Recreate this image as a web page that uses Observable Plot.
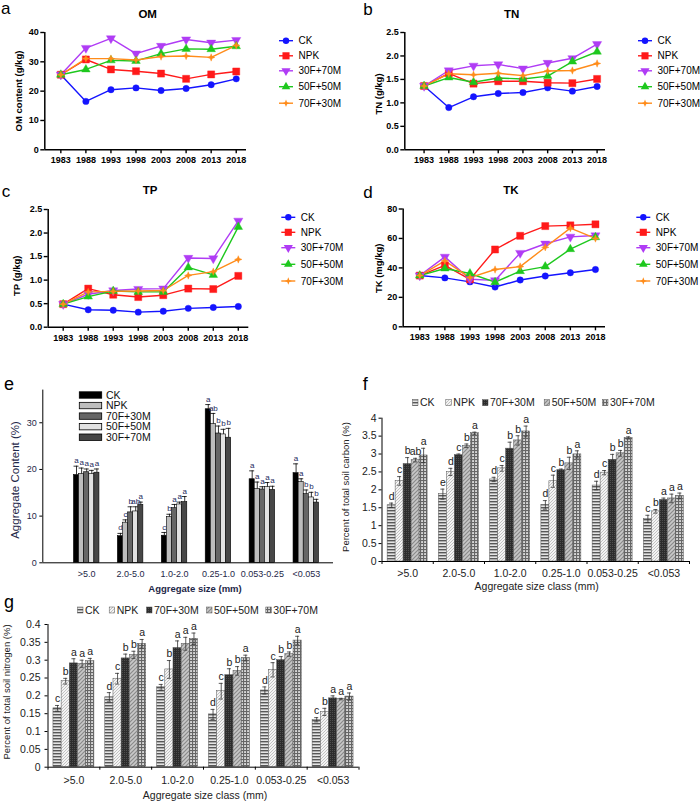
<!DOCTYPE html>
<html><head><meta charset="utf-8">
<script src="https://cdn.jsdelivr.net/npm/d3@7"></script>
<script src="https://cdn.jsdelivr.net/npm/@observablehq/plot@0.6"></script>
<style>
html,body{margin:0;padding:0;background:#fff;}
#root{position:relative;width:700px;height:801px;overflow:hidden;font-family:"Liberation Sans",Arial,sans-serif;background:#fff;}
#root svg.layer{position:absolute;left:0;top:0;}
</style></head><body>
<svg width="0" height="0" style="position:absolute;left:0;top:0">
<defs>
<pattern id="pCK" width="4" height="3" patternUnits="userSpaceOnUse"><rect width="4" height="3" fill="#e4e4e4"/><rect width="4" height="1.4" fill="#585858"/></pattern>
<pattern id="pNPK" width="3" height="3" patternUnits="userSpaceOnUse"><rect width="3" height="3" fill="#f4f4f4"/><path d="M0,3 L3,0 M-1,1 L1,-1 M2,4 L4,2" stroke="#9a9a9a" stroke-width="0.8" stroke-dasharray="1,0.6"/></pattern>
<pattern id="p70" width="2" height="2" patternUnits="userSpaceOnUse"><rect width="2" height="2" fill="#2c2c2c"/><rect width="1" height="1" fill="#4e4e4e"/></pattern>
<pattern id="p50" width="4" height="4" patternUnits="userSpaceOnUse"><rect width="4" height="4" fill="#c8c8c8"/><path d="M0,4 L4,0 M-1,1 L1,-1 M3,5 L5,3" stroke="#8a8a8a" stroke-width="1.2"/></pattern>
<pattern id="p30" width="3" height="3" patternUnits="userSpaceOnUse"><rect width="3" height="3" fill="#d8d8d8"/><rect width="3" height="1.1" fill="#666"/><rect width="1.1" height="3" fill="#666"/></pattern>
</defs></svg>
<div id="root"></div>
<script>
// ---------- data: panels a-d ----------
const years = [1983, 1988, 1993, 1998, 2003, 2008, 2013, 2018];
const lineTreatments = ["CK", "NPK", "30F+70M", "50F+50M", "70F+30M"];

const omCK     = [25.6, 16.5, 20.5, 21.1, 20.2, 20.9, 22.2, 24.2];
const omNPK    = [25.6, 30.8, 27.4, 26.8, 26.0, 24.2, 25.7, 26.7];
const om30F70M = [25.6, 34.7, 38.0, 32.8, 35.4, 37.6, 36.5, 37.4];
const om50F50M = [25.6, 27.4, 30.5, 30.3, 32.8, 34.4, 34.3, 35.3];
const om70F30M = [25.6, 31.1, 31.1, 30.6, 31.8, 32.0, 31.5, 35.6];

const tnCK     = [1.36, 0.90, 1.13, 1.20, 1.22, 1.32, 1.25, 1.35];
const tnNPK    = [1.36, 1.63, 1.41, 1.46, 1.46, 1.43, 1.42, 1.51];
const tn30F70M = [1.36, 1.69, 1.79, 1.82, 1.73, 1.85, 1.95, 2.25];
const tn50F50M = [1.36, 1.54, 1.44, 1.53, 1.51, 1.57, 1.88, 2.09];
const tn70F30M = [1.36, 1.62, 1.60, 1.63, 1.58, 1.68, 1.69, 1.84];

const tpCK     = [0.49, 0.37, 0.36, 0.32, 0.34, 0.40, 0.42, 0.44];
const tpNPK    = [0.49, 0.82, 0.69, 0.64, 0.68, 0.82, 0.81, 1.09];
const tp30F70M = [0.49, 0.70, 0.78, 0.81, 0.82, 1.47, 1.46, 2.26];
const tp50F50M = [0.49, 0.65, 0.77, 0.75, 0.75, 1.27, 1.11, 2.13];
const tp70F30M = [0.49, 0.75, 0.76, 0.77, 0.78, 1.10, 1.18, 1.44];

const tkCK     = [34.8, 33.2, 30.5, 27.0, 31.8, 34.5, 36.7, 38.9];
const tkNPK    = [34.8, 41.7, 32.2, 52.5, 61.8, 68.4, 68.9, 69.6];
const tk30F70M = [34.8, 47.5, 32.3, 31.5, 50.1, 56.4, 61.1, 62.0];
const tk50F50M = [34.8, 39.6, 36.2, 30.3, 37.8, 40.9, 52.7, 60.8];
const tk70F30M = [34.8, 44.8, 33.4, 38.9, 40.9, 54.0, 67.0, 60.0];

// ---------- data: panels e-g ----------
const sizeClasses = [">5.0", "2.0-5.0", "1.0-2.0", "0.25-1.0", "0.053-0.25", "<0.053"];
const barTreatments = ["CK", "NPK", "70F+30M", "50F+50M", "30F+70M"];

const aggCK     = [18.8, 5.7, 5.8, 32.9, 17.9, 19.2];
const aggNPK    = [19.0, 8.6, 9.8, 29.7, 15.8, 17.3];
const agg70F30M = [19.4, 10.8, 11.7, 27.7, 15.7, 14.7];
const agg50F50M = [19.0, 11.0, 12.5, 27.5, 16.2, 14.0];
const agg30F70M = [19.3, 12.4, 13.0, 26.8, 15.6, 12.9];
const aggErrCK     = [1.9, 0.6, 0.7, 1.0, 1.8, 2.0];
const aggErrNPK    = [1.3, 0.6, 0.6, 2.3, 1.5, 0.7];
const aggErr70F30M = [0.7, 1.2, 0.8, 1.6, 0.6, 0.9];
const aggErr50F50M = [0.8, 1.0, 0.5, 1.1, 1.0, 1.1];
const aggErr30F70M = [0.8, 0.6, 1.2, 2.0, 0.8, 0.7];
const aggSigCK     = ["a", "d", "c", "a", "a", "a"];
const aggSigNPK    = ["a", "c", "b", "ab", "a", "a"];
const aggSig70F30M = ["a", "b", "a", "b", "a", "b"];
const aggSig50F50M = ["a", "ab", "a", "b", "a", "b"];
const aggSig30F70M = ["a", "a", "a", "b", "a", "b"];

const socCK     = [1.57, 1.88, 2.29, 1.58, 2.12, 1.19];
const socNPK    = [2.25, 2.50, 2.60, 2.24, 2.48, 1.40];
const soc70F30M = [2.72, 2.97, 3.15, 2.55, 2.84, 1.72];
const soc50F50M = [2.83, 3.23, 3.38, 2.74, 3.02, 1.76];
const soc30F70M = [2.96, 3.58, 3.63, 2.99, 3.45, 1.83];
const socErrCK     = [0.06, 0.14, 0.06, 0.12, 0.12, 0.10];
const socErrNPK    = [0.12, 0.10, 0.08, 0.17, 0.06, 0.05];
const socErr70F30M = [0.18, 0.03, 0.18, 0.03, 0.15, 0.05];
const socErr50F50M = [0.05, 0.05, 0.13, 0.17, 0.08, 0.12];
const socErr30F70M = [0.20, 0.03, 0.15, 0.10, 0.03, 0.08];
const socSigCK     = ["d", "e", "d", "d", "d", "c"];
const socSigNPK    = ["c", "d", "c", "c", "c", "b"];
const socSig70F30M = ["b", "c", "b", "b", "b", "a"];
const socSig50F50M = ["ab", "b", "b", "b", "b", "a"];
const socSig30F70M = ["a", "a", "a", "a", "a", "a"];

const stnCK     = [0.165, 0.196, 0.224, 0.148, 0.215, 0.133];
const stnNPK    = [0.241, 0.248, 0.274, 0.213, 0.273, 0.155];
const stn70F30M = [0.291, 0.305, 0.334, 0.258, 0.300, 0.193];
const stn50F50M = [0.290, 0.315, 0.346, 0.270, 0.317, 0.191];
const stn30F70M = [0.297, 0.346, 0.360, 0.306, 0.355, 0.198];
const stnErrCK     = [0.008, 0.013, 0.008, 0.014, 0.010, 0.006];
const stnErrNPK    = [0.008, 0.015, 0.025, 0.022, 0.020, 0.010];
const stnErr70F30M = [0.013, 0.012, 0.020, 0.018, 0.010, 0.007];
const stnErr50F50M = [0.010, 0.010, 0.018, 0.012, 0.006, 0.002];
const stnErr30F70M = [0.008, 0.012, 0.016, 0.008, 0.012, 0.010];
const stnSigCK     = ["c", "d", "c", "d", "d", "c"];
const stnSigNPK    = ["b", "c", "b", "c", "c", "b"];
const stnSig70F30M = ["a", "b", "a", "b", "b", "a"];
const stnSig50F50M = ["a", "b", "a", "b", "b", "a"];
const stnSig30F70M = ["a", "a", "a", "a", "a", "a"];

// ---------- styling ----------
const FONT = "Liberation Sans, Arial, sans-serif";
const lineColors = ["#1414ff", "#ff1a1a", "#b03cf5", "#1ec81e", "#ff8c1a"];
const triDown = {draw(c, size) { const s3 = Math.sqrt(3); const y = Math.sqrt(size / (s3 * 3)); c.moveTo(0, y * 2); c.lineTo(-s3 * y, -y); c.lineTo(s3 * y, -y); c.closePath(); }};
const star4 = {draw(c, size) { const R = Math.sqrt(size) * 0.75, r = R * 0.4; for (let k = 0; k < 8; k++) { const a = k * Math.PI / 4 - Math.PI / 2; const rad = k % 2 ? r : R; const x = rad * Math.cos(a), y = rad * Math.sin(a); if (k) c.lineTo(x, y); else c.moveTo(x, y); } c.closePath(); }};
const lineSymbols = [d3.symbolCircle, d3.symbolSquare, triDown, d3.symbolTriangle, star4];
const lineR = [3.2, 4.0, 3.4, 3.2, 2.8];

const root = document.getElementById("root");
function addLayer(svg) { svg.classList.add("layer"); root.appendChild(svg); return d3.select(svg); }

function thickenTicks(sel, w) {
  sel.selectAll('g[aria-label="x-axis tick"], g[aria-label="y-axis tick"], g[aria-label="x-axis"] .tick line, g[aria-label="y-axis"] .tick line').attr("stroke-width", w);
}

function linePanel(cfg) {
  const rows = [];
  cfg.series.forEach((vals, si) => vals.forEach((v, yi) => rows.push({year: years[yi], value: v, si})));
  const marks = [];
  lineTreatments.forEach((t, si) => marks.push(Plot.line(rows.filter(r => r.si === si), {x: "year", y: "value", stroke: lineColors[si], strokeWidth: 1.4})));
  lineTreatments.forEach((t, si) => marks.push(Plot.dot(rows.filter(r => r.si === si), {x: "year", y: "value", symbol: lineSymbols[si], r: lineR[si], fill: lineColors[si], stroke: lineColors[si], strokeWidth: 0.4})));
  marks.push(Plot.ruleY([cfg.yDomain[0]], {stroke: "#000", strokeWidth: 1.5}));
  marks.push(Plot.ruleX([cfg.xDomain[0]], {stroke: "#000", strokeWidth: 1.5}));
  const svg = Plot.plot({
    width: 700, height: 801,
    marginLeft: cfg.px[0], marginRight: 700 - cfg.px[1], marginTop: cfg.py[1], marginBottom: 801 - cfg.py[0],
    x: {domain: cfg.xDomain, ticks: years, tickFormat: "d", tickSize: 4, tickPadding: 3, label: null},
    y: {domain: cfg.yDomain, ticks: cfg.yTicks, tickFormat: cfg.yFormat, tickSize: 4, tickPadding: 2, label: null},
    style: {background: "transparent", fontFamily: FONT, fontSize: "9px", fontWeight: "bold", color: "#000", overflow: "visible"},
    marks
  });
  const s = addLayer(svg);
  thickenTicks(s, 1.4);
  const g = s.append("g").attr("font-family", FONT).attr("fill", "#000").attr("text-anchor", "start");
  g.append("text").attr("x", cfg.letter[0]).attr("y", cfg.letter[1]).attr("font-size", 17).attr("font-weight", "normal").text(cfg.letterText);
  g.append("text").attr("x", cfg.title[0]).attr("y", cfg.title[1]).attr("font-size", 11.5).attr("font-weight", "bold").attr("text-anchor", "middle").text(cfg.titleText);
  g.append("text").attr("transform", `translate(${cfg.ytitle[0]},${cfg.ytitle[1]}) rotate(-90)`).attr("font-size", 9.5).attr("font-weight", "bold").attr("text-anchor", "middle").attr("dy", "0.35em").text(cfg.ytitleText);
  lineTreatments.forEach((t, si) => {
    const y = cfg.legY[si], x = cfg.legX;
    g.append("line").attr("x1", x - 7).attr("x2", x + 7).attr("y1", y).attr("y2", y).attr("stroke", lineColors[si]).attr("stroke-width", 1.4);
    g.append("path").attr("transform", `translate(${x},${y})`).attr("d", d3.symbol(lineSymbols[si], Math.PI * lineR[si] * lineR[si])()).attr("fill", lineColors[si]);
    g.append("text").attr("x", x + 12.5).attr("y", y).attr("dy", "0.35em").attr("font-size", 10).attr("font-weight", "normal").text(t);
  });
}

const fmt1 = d3.format(".1f");
linePanel({series: [omCK, omNPK, om30F70M, om50F50M, om70F30M], px: [44.3, 246], py: [149.3, 32], xDomain: [1979.8, 2020.05], yDomain: [0, 40], yTicks: [0, 10, 20, 30, 40], yFormat: d => String(d),
  letter: [1, 14], letterText: "a", title: [147.7, 17.5], titleText: "OM", ytitle: [18.3, 91], ytitleText: "OM content (g/kg)", legX: 286, legY: [40.7, 55.8, 70.8, 86.7, 103.2]});
linePanel({series: [tnCK, tnNPK, tn30F70M, tn50F50M, tn70F30M], px: [404.3, 605], py: [149.3, 32], xDomain: [1979.1, 2019.7], yDomain: [0, 2.5], yTicks: [0, 0.5, 1, 1.5, 2, 2.5], yFormat: fmt1,
  letter: [363.3, 14.5], letterText: "b", title: [511.7, 17.5], titleText: "TN", ytitle: [378.3, 94], ytitleText: "TN (g/kg)", legX: 645, legY: [40.7, 55.8, 70.8, 86.7, 103.2]});
linePanel({series: [tpCK, tpNPK, tp30F70M, tp50F50M, tp70F30M], px: [47.7, 248.3], py: [326.7, 209], xDomain: [1980, 2020.1], yDomain: [0, 2.5], yTicks: [0, 0.5, 1, 1.5, 2, 2.5], yFormat: fmt1,
  letter: [1.7, 196.7], letterText: "c", title: [150, 194], titleText: "TP", ytitle: [16.7, 275.7], ytitleText: "TP (g/kg)", legX: 288.3, legY: [217.3, 232.3, 247.7, 264.3, 281]});
linePanel({series: [tkCK, tkNPK, tk30F70M, tk50F50M, tk70F30M], px: [402.7, 605], py: [326.3, 208.5], xDomain: [1979.7, 2020], yDomain: [0, 80], yTicks: [0, 20, 40, 60, 80], yFormat: d => String(d),
  letter: [363.3, 198], letterText: "d", title: [511, 194], titleText: "TK", ytitle: [378.3, 268.3], ytitleText: "TK (mg/kg)", legX: 643.3, legY: [217.3, 232.3, 247.7, 264.3, 281]});

function barPanel(cfg) {
  const rows = [];
  barTreatments.forEach((t, si) => sizeClasses.forEach((c, ci) => rows.push({ci, si, v: cfg.values[si][ci], e: cfg.errors[si][ci], L: cfg.letters[si][ci]})));
  const bw = cfg.barW;
  const cx = r => r.ci + (r.si - 2) * bw;
  const pxPerUnitY = (cfg.py[0] - cfg.py[1]) / (cfg.yDomain[1] - cfg.yDomain[0]);
  const unitsPerPxX = (cfg.xDomain[1] - cfg.xDomain[0]) / (cfg.px[1] - cfg.px[0]);
  const cap = cfg.capPx * unitsPerPxX;
  const marks = [];
  barTreatments.forEach((t, si) => marks.push(Plot.rect(rows.filter(r => r.si === si), {x1: r => cx(r) - bw / 2, x2: r => cx(r) + bw / 2, y1: 0, y2: "v", fill: cfg.fills[si], stroke: cfg.barStroke, strokeWidth: cfg.barStrokeWidth})));
  marks.push(Plot.ruleX(rows, {x: cx, y1: cfg.errBoth ? (r => r.v - r.e) : "v", y2: r => r.v + r.e, stroke: cfg.errColor, strokeWidth: 0.8}));
  marks.push(Plot.ruleY(rows, {y: r => r.v + r.e, x1: r => cx(r) - cap, x2: r => cx(r) + cap, stroke: cfg.errColor, strokeWidth: 0.8}));
  if (cfg.errBoth) marks.push(Plot.ruleY(rows, {y: r => r.v - r.e, x1: r => cx(r) - cap, x2: r => cx(r) + cap, stroke: cfg.errColor, strokeWidth: 0.8}));
  marks.push(Plot.text(rows, {x: cx, y: r => r.v + r.e, text: "L", dy: cfg.letterDy, fontSize: cfg.letterSize, fill: cfg.letterColor}));
  marks.push(Plot.ruleY([cfg.yDomain[0]], {stroke: "#000", strokeWidth: 1}));
  marks.push(Plot.ruleX([cfg.xDomain[0]], {stroke: "#000", strokeWidth: 1}));
  if (cfg.boundaryTicks) marks.push(Plot.ruleX(d3.range(-0.5, sizeClasses.length, 1), {x: d => d, y1: 0, y2: -3 / pxPerUnitY, stroke: "#000", strokeWidth: 1}));
  const svg = Plot.plot({
    width: 700, height: 801,
    marginLeft: cfg.px[0], marginRight: 700 - cfg.px[1], marginTop: cfg.py[1], marginBottom: 801 - cfg.py[0],
    x: {domain: cfg.xDomain, ticks: d3.range(sizeClasses.length), tickFormat: i => sizeClasses[i], tickSize: 0, tickPadding: cfg.xTickPad, label: null},
    y: {domain: cfg.yDomain, ticks: cfg.yTicks, tickFormat: cfg.yFormat, tickSize: 3, tickPadding: cfg.yTickPad, label: null},
    style: {background: "transparent", fontFamily: FONT, fontSize: cfg.tickFont + "px", fontWeight: "normal", color: cfg.textColor, overflow: "visible"},
    marks
  });
  const s = addLayer(svg);
  s.selectAll('g[aria-label="y-axis tick"], g[aria-label="y-axis"] .tick line').attr("stroke", "#000");
  const g = s.append("g").attr("font-family", FONT).attr("fill", cfg.textColor).attr("text-anchor", "start");
  g.append("text").attr("x", cfg.letter[0]).attr("y", cfg.letter[1]).attr("font-size", 18).attr("fill", "#000").text(cfg.letterText);
  g.append("text").attr("transform", `translate(${cfg.ytitle[0]},${cfg.ytitle[1]}) rotate(-90)`).attr("font-size", cfg.ytitleSize).attr("text-anchor", "middle").attr("dy", "0.35em").text(cfg.ytitleText);
  g.append("text").attr("x", cfg.xtitle[0]).attr("y", cfg.xtitle[1]).attr("font-size", cfg.xtitleSize).attr("font-weight", cfg.xtitleWeight).attr("text-anchor", "middle").attr("dy", "0.35em").text(cfg.xtitleText);
  cfg.legend(g);
}

barPanel({
  values: [aggCK, aggNPK, agg70F30M, agg50F50M, agg30F70M],
  errors: [aggErrCK, aggErrNPK, aggErr70F30M, aggErr50F50M, aggErr30F70M],
  letters: [aggSigCK, aggSigNPK, aggSig70F30M, aggSig50F50M, aggSig30F70M],
  px: [42.3, 333], py: [562.3, 389.6], xDomain: [-1.0, 5.62], yDomain: [0, 37], yTicks: [0, 10, 20, 30], yFormat: d => String(d),
  barW: 0.116, fills: ["#000", "#bdbdbd", "#666", "#e2e2e2", "#474747"], barStroke: "#000", barStrokeWidth: 0.6,
  errBoth: false, errColor: "#000", capPx: 2.5, letterDy: -5.5, letterSize: 8, letterColor: "#1c2a5e",
  boundaryTicks: false, xTickPad: 8, yTickPad: 3, tickFont: 9, textColor: "#1e2748",
  letter: [4, 390], letterText: "e", ytitle: [15, 480], ytitleSize: 11.5, ytitleText: "Aggregate Content (%)",
  xtitle: [195, 589], xtitleSize: 9.5, xtitleWeight: "bold", xtitleText: "Aggregate size (mm)",
  legend: g => {
    const fills = ["#000", "#bdbdbd", "#666", "#e2e2e2", "#474747"];
    barTreatments.forEach((t, si) => {
      const y = 395 + si * 10.55;
      g.append("rect").attr("x", 79.3).attr("y", y - 3.2).attr("width", 22.4).attr("height", 6.4).attr("fill", fills[si]).attr("stroke", "#000").attr("stroke-width", 0.8);
      g.append("text").attr("x", 106).attr("y", y).attr("dy", "0.35em").attr("font-size", 10.5).attr("fill", "#111").text(t);
    });
  }
});

const patFills = ["url(#pCK)", "url(#pNPK)", "url(#p70)", "url(#p50)", "url(#p30)"];
function patLegend(g, xs, y, size) {
  barTreatments.forEach((t, si) => {
    g.append("rect").attr("x", xs[si] - 7.5).attr("y", y - 3).attr("width", 5.5).attr("height", 6).attr("fill", patFills[si]).attr("stroke", "#555").attr("stroke-width", 0.5);
    g.append("text").attr("x", xs[si]).attr("y", y).attr("dy", "0.35em").attr("font-size", size).text(t);
  });
}

barPanel({
  values: [socCK, socNPK, soc70F30M, soc50F50M, soc30F70M],
  errors: [socErrCK, socErrNPK, socErr70F30M, socErr50F50M, socErr30F70M],
  letters: [socSigCK, socSigNPK, socSig70F30M, socSig50F50M, socSig30F70M],
  px: [381.5, 689], py: [561, 417.7], xDomain: [-0.5, 5.5], yDomain: [0, 4], yTicks: [0, 0.5, 1, 1.5, 2, 2.5, 3, 3.5, 4], yFormat: d => String(d),
  barW: 0.156, fills: patFills, barStroke: "#555", barStrokeWidth: 0.5,
  errBoth: true, errColor: "#333", capPx: 2, letterDy: -6.5, letterSize: 10.5, letterColor: "#222",
  boundaryTicks: true, xTickPad: 8, yTickPad: 2.5, tickFont: 10.5, textColor: "#222",
  letter: [362.7, 390], letterText: "f", ytitle: [346, 487], ytitleSize: 9.5, ytitleText: "Percent of total soil carbon (%)",
  xtitle: [536.7, 586.7], xtitleSize: 10.5, xtitleWeight: "normal", xtitleText: "Aggregate size class (mm)",
  legend: g => patLegend(g, [420, 453.3, 490, 551.7, 610], 402.7, 10.5)
});

barPanel({
  values: [stnCK, stnNPK, stn70F30M, stn50F50M, stn30F70M],
  errors: [stnErrCK, stnErrNPK, stnErr70F30M, stnErr50F50M, stnErr30F70M],
  letters: [stnSigCK, stnSigNPK, stnSig70F30M, stnSig50F50M, stnSig30F70M],
  px: [47.5, 358.5], py: [766.7, 624], xDomain: [-0.5, 5.5], yDomain: [0, 0.4], yTicks: [0, 0.05, 0.1, 0.15, 0.2, 0.25, 0.3, 0.35, 0.4], yFormat: d => String(+d.toFixed(2)),
  barW: 0.158, fills: patFills, barStroke: "#555", barStrokeWidth: 0.5,
  errBoth: true, errColor: "#333", capPx: 2, letterDy: -6.5, letterSize: 10.5, letterColor: "#222",
  boundaryTicks: true, xTickPad: 9, yTickPad: 4.5, tickFont: 10.5, textColor: "#222",
  letter: [4, 608], letterText: "g", ytitle: [6.5, 692], ytitleSize: 9.5, ytitleText: "Percent of total soil nitrogen (%)",
  xtitle: [205, 795], xtitleSize: 10.5, xtitleWeight: "normal", xtitleText: "Aggregate size class (mm)",
  legend: g => patLegend(g, [85, 116.7, 154, 214, 273.3], 610, 10.5)
});
</script></body></html>
